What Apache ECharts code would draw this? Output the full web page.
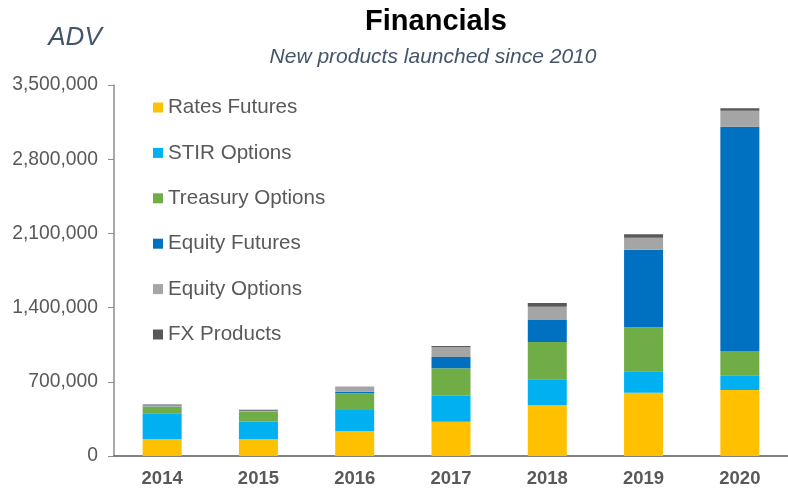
<!DOCTYPE html>
<html>
<head>
<meta charset="utf-8">
<script src="https://cdn.jsdelivr.net/npm/echarts@6/dist/echarts.min.js"></script>
<style>html,body{margin:0;padding:0;background:#fff;}#c{width:788px;height:489px;}</style>
</head>
<body>
<div id="c"></div>
<script>
const years = ['2014','2015','2016','2017','2018','2019','2020'];
const ratesFutures    = [160000, 160000, 236000, 324000, 478000, 597000, 623000];
const stirOptions     = [243000, 164000, 198000, 245000, 245000, 202000, 138000];
const treasuryOptions = [62000, 94000, 157000, 258000, 352000, 415000, 230000];
const equityFutures   = [2000, 2000, 16000, 107000, 208000, 732000, 2116000];
const equityOptions   = [10000, 8000, 41000, 94000, 126000, 113000, 151000];
const fxProducts      = [8000, 8000, 5000, 10000, 34000, 32000, 22000];
const yTicks = [0, 700000, 1400000, 2100000, 2800000, 3500000];

const seriesDefs = [
  ['Rates Futures', ratesFutures, '#FFC000'],
  ['STIR Options', stirOptions, '#00B0F0'],
  ['Treasury Options', treasuryOptions, '#70AD47'],
  ['Equity Futures', equityFutures, '#0070C0'],
  ['Equity Options', equityOptions, '#A5A5A5'],
  ['FX Products', fxProducts, '#595959']
];

const chart = echarts.init(document.getElementById('c'), null, {renderer:'canvas'});
const font = 'Liberation Sans, Arial, sans-serif';
chart.setOption({
  animation: false,
  backgroundColor: '#fff',
  textStyle: {fontFamily: font},
  graphic: [
    {type:'text', x:436, y:21.5, style:{text:'Financials', font:'bold 29px "Liberation Sans", Arial, sans-serif', fill:'#000', align:'center', verticalAlign:'middle'}},
    {type:'text', x:433, y:57, style:{text:'New products launched since 2010', font:'italic 21px "Liberation Sans", Arial, sans-serif', fill:'#44546A', align:'center', verticalAlign:'middle'}},
    {type:'text', x:75, y:37.5, style:{text:'ADV', font:'italic 26px "Liberation Sans", Arial, sans-serif', fill:'#44546A', align:'center', verticalAlign:'middle'}}
  ],
  legend: {
    orient: 'vertical',
    left: 153, top: 97,
    padding: 0,
    itemWidth: 10, itemHeight: 10,
    itemGap: 24.4,
    icon: 'rect',
    textStyle: {fontSize: 20.6, lineHeight: 20, color: '#595959', fontFamily: font},
    data: seriesDefs.map(d => d[0])
  },
  grid: {left: 114, top: 85, width: 682, height: 371, containLabel: false},
  xAxis: {
    type: 'category',
    data: years,
    axisLine: {lineStyle: {color: '#595959', width: 1.5}},
    axisTick: {show: false},
    axisLabel: {color: '#595959', fontWeight: 'bold', fontSize: 18.5, margin: 13, fontFamily: font}
  },
  yAxis: {
    type: 'value',
    min: yTicks[0], max: yTicks[yTicks.length-1], interval: yTicks[1]-yTicks[0],
    axisLine: {show: true, lineStyle: {color: '#8C8C8C', width: 1.5}},
    axisTick: {show: true, length: 6, lineStyle: {color: '#8C8C8C'}},
    splitLine: {show: false},
    axisLabel: {color: '#595959', fontSize: 19.3, margin: 16, fontFamily: font,
      formatter: v => v.toLocaleString('en-US')}
  },
  series: seriesDefs.map(d => ({
    name: d[0], type: 'bar', stack: 'total', data: d[1], barWidth: 39,
    itemStyle: {color: d[2]}
  }))
});
</script>
</body>
</html>
